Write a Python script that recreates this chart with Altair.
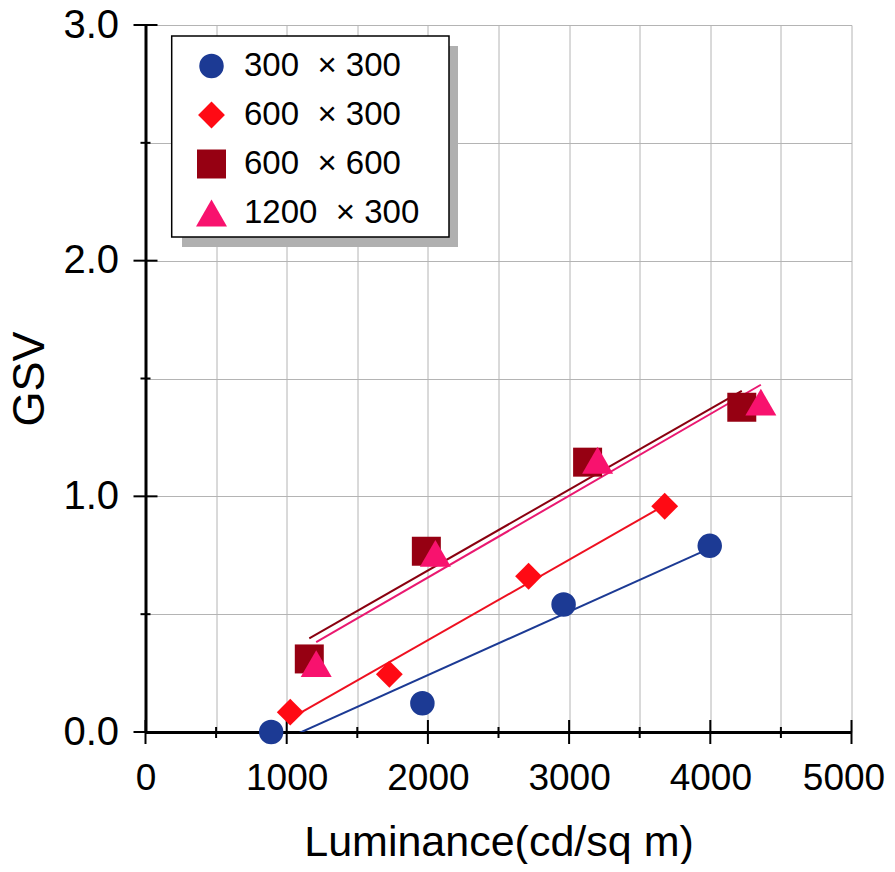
import altair as alt
import pandas as pd

# ---- data ----
series_names = ["300\u00a0\u00a0× 300", "600\u00a0\u00a0× 300", "600\u00a0\u00a0× 600", "1200\u00a0\u00a0× 300"]

lum_300x300 = [890, 1961, 2961, 3996]
gsv_300x300 = [0.0, 0.122, 0.541, 0.79]

lum_600x300 = [1025, 1727, 2713, 3677]
gsv_600x300 = [0.084, 0.245, 0.661, 0.958]

lum_600x600 = [1160, 1989, 3131, 4223]
gsv_600x600 = [0.31, 0.767, 1.145, 1.378]

lum_1200x300 = [1209, 2053, 3202, 4358]
gsv_1200x300 = [0.29, 0.758, 1.153, 1.40]

x_grid_values = [0, 500, 1000, 1500, 2000, 2500, 3000, 3500, 4000, 4500, 5000]
x_major_ticks = [0, 1000, 2000, 3000, 4000, 5000]
x_minor_ticks = [500, 1500, 2500, 3500, 4500]
y_grid_values = [0.0, 0.5, 1.0, 1.5, 2.0, 2.5, 3.0]
y_major_ticks = [0.0, 1.0, 2.0, 3.0]
y_minor_ticks = [0.5, 1.5, 2.5]

# ---- styles ----
marker_colors = ["#1C3A94", "#FF0A14", "#960012", "#F8126E"]
line_colors = ["#1C3A94", "#EE1020", "#8A0010", "#EA1870"]
shapes = ["circle", "M-1,0L0,-1L1,0L0,1Z", "square", "triangle-up"]
marker_sizes = [600, 961, 729, 784]
FONT = "Liberation Sans"
W, H = 706, 707

rows = []
for name, xs, ys in [
    (series_names[0], lum_300x300, gsv_300x300),
    (series_names[1], lum_600x300, gsv_600x300),
    (series_names[2], lum_600x600, gsv_600x600),
    (series_names[3], lum_1200x300, gsv_1200x300),
]:
    for x, y in zip(xs, ys):
        rows.append({"series": name, "lum": x, "gsv": y})
df = pd.DataFrame(rows)

line_keys = ["fit " + s for s in series_names]

xscale = alt.Scale(domain=[0, 5000], nice=False, zero=False)
yscale = alt.Scale(domain=[0, 3], nice=False, zero=False)

x_axis = alt.Axis(
    values=x_grid_values,
    labelExpr="datum.value % 1000 === 0 ? format(datum.value, 'd') : ''",
    labelOffset={"condition": {"test": "datum.value === 5000", "value": -8}, "value": 0},
    title="Luminance(cd/sq m)",
    titleX=W / 2, titleY=123,
)
y_axis = alt.Axis(
    values=y_grid_values,
    labelExpr="datum.value % 1 === 0 ? format(datum.value, '.1f') : ''",
    title="GSV",
    titleX=-102, titleY=H / 2, titleAngle=270,
)

one = pd.DataFrame({"k": [0]})
shadow = alt.Chart(one).mark_rect(color="#b0b0b0").encode(
    x=alt.value(36.5), x2=alt.value(312.5), y=alt.value(21), y2=alt.value(222)
)
box = alt.Chart(one).mark_rect(fill="white", stroke="black", strokeWidth=1.5).encode(
    x=alt.value(26.2), x2=alt.value(303.5), y=alt.value(11), y2=alt.value(212)
)

points = alt.Chart(df).mark_point(filled=True, opacity=1, strokeWidth=0).encode(
    x=alt.X("lum:Q", scale=xscale, axis=x_axis),
    y=alt.Y("gsv:Q", scale=yscale, axis=y_axis),
    color=alt.Color("series:N", scale=alt.Scale(domain=series_names, range=marker_colors),
                    legend=alt.Legend(title=None)),
    shape=alt.Shape("series:N", scale=alt.Scale(domain=series_names, range=shapes),
                    legend=alt.Legend(title=None)),
    size=alt.Size("series:N", scale=alt.Scale(domain=series_names, range=marker_sizes), legend=None),
)

lines = alt.Chart(df).transform_regression(
    "lum", "gsv", groupby=["series"]
).transform_calculate(
    fitkey="'fit ' + datum.series"
).mark_line(strokeWidth=2, clip=True).encode(
    x=alt.X("lum:Q"),
    y=alt.Y("gsv:Q"),
    stroke=alt.Stroke("fitkey:N", scale=alt.Scale(domain=line_keys, range=line_colors), legend=None),
    detail="series:N",
)

xt_major = alt.Chart(pd.DataFrame({"lum": x_major_ticks})).mark_rule(color="black", strokeWidth=2).encode(
    x=alt.X("lum:Q"), y=alt.value(H - 12), y2=alt.value(H + 12)
)
xt_minor = alt.Chart(pd.DataFrame({"lum": x_minor_ticks})).mark_rule(color="black", strokeWidth=2).encode(
    x=alt.X("lum:Q"), y=alt.value(H - 5), y2=alt.value(H + 6)
)
yt_major = alt.Chart(pd.DataFrame({"gsv": y_major_ticks})).mark_rule(color="black", strokeWidth=2).encode(
    y=alt.Y("gsv:Q"), x=alt.value(-12), x2=alt.value(12)
)
yt_minor = alt.Chart(pd.DataFrame({"gsv": y_minor_ticks})).mark_rule(color="black", strokeWidth=2).encode(
    y=alt.Y("gsv:Q"), x=alt.value(-5), x2=alt.value(5)
)

chart = alt.layer(
    shadow, box, lines, xt_major, xt_minor, yt_major, yt_minor, points
).properties(
    width=W, height=H,
    autosize=alt.AutoSizeParams(type="none"),
    padding={"left": 137.5, "top": 17, "right": 35, "bottom": 132},
    background="white",
).configure_view(
    stroke=None
).configure_axis(
    grid=True, gridColor="#b4b4b4", gridWidth=1,
    domainColor="black", domainWidth=3,
    ticks=False, tickSize=0,
    labelFont=FONT, labelColor="black",
    labelFlush=False, labelOverlap=False, labelBound=False,
    titleFont=FONT, titleFontWeight="normal", titleColor="black",
    titleAlign="center", titleBaseline="alphabetic",
).configure_axisX(
    labelFontSize=37, labelPadding=28, labelAngle=0, titleFontSize=43,
).configure_axisY(
    labelFontSize=40, labelPadding=27, labelBaseline="middle", titleFontSize=45,
).configure_legend(
    orient="none", legendX=49.5, legendY=24.5,
    labelFont=FONT, labelFontSize=33, labelColor="black", labelOffset=16, labelLimit=0,
    symbolSize=760, symbolStrokeWidth=0, symbolOpacity=1,
    rowPadding=15, padding=0,
)

chart.save("out.html", embed_options={"renderer": "svg", "actions": False})
